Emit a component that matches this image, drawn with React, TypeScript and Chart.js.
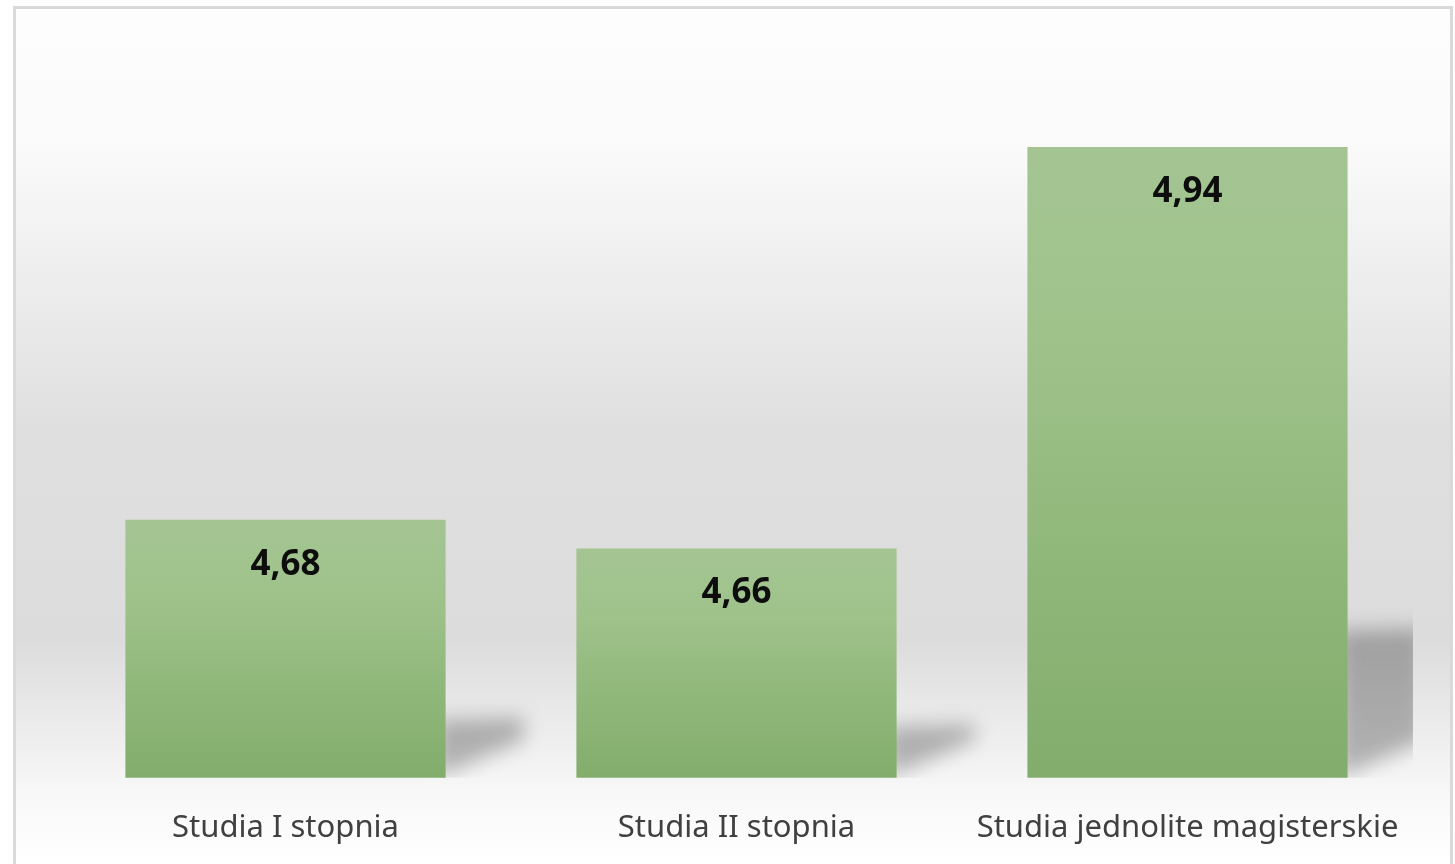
import React, { useEffect, useRef } from "react";
import { Chart, registerables } from "chart.js";

Chart.register(...registerables);

const categories: string[] = ["Studia I stopnia", "Studia II stopnia", "Studia jednolite magisterskie"];
const values: number[] = [4.68, 4.66, 4.94];
const valueLabels: string[] = ["4,68", "4,66", "4,94"];
const yMin = 4.5;
const yMax = 5.0;

const FONT = "'Noto Sans', 'Open Sans', sans-serif";

function drawShadows(chart: any) {
  const { ctx, chartArea } = chart;
  const meta = chart.getDatasetMeta(0);
  const ys = chart.scales.y;
  if (!chartArea || !meta || !meta.data || !ys) return;
  const base = ys.getPixelForValue(yMin);
  const OFF = 4000;
  ctx.save();
  ctx.beginPath();
  ctx.rect(chartArea.left, chartArea.top, chartArea.right - chartArea.left, base - chartArea.top);
  ctx.clip();
  ctx.shadowColor = "rgba(0,0,0,0.27)";
  ctx.shadowBlur = 20;
  ctx.shadowOffsetX = OFF;
  ctx.shadowOffsetY = 0;
  ctx.fillStyle = "#000";
  meta.data.forEach((el: any) => {
    const h = base - el.y;
    const R = el.x + el.width / 2 - OFF;
    const top = base - 0.24 * h;
    ctx.beginPath();
    ctx.moveTo(R - 10, base);
    ctx.lineTo(R - 10, top + 4);
    ctx.lineTo(R + 78, top + 2);
    ctx.lineTo(R + 78, base - 38);
    ctx.closePath();
    ctx.fill();
  });
  ctx.restore();
}

const framePlugin = {
  id: "frameBg",
  beforeDraw(chart: any) {
    const { ctx, width, height } = chart;
    ctx.save();
    ctx.fillStyle = "#ffffff";
    ctx.fillRect(0, 0, width, height);
    const g = ctx.createLinearGradient(0, 0, 0, height);
    g.addColorStop(0, "#fefefe");
    g.addColorStop(0.17, "#fafafa");
    g.addColorStop(0.5, "#dfdfdf");
    g.addColorStop(0.74, "#dcdcdc");
    g.addColorStop(0.92, "#f8f8f8");
    g.addColorStop(1, "#ffffff");
    ctx.fillStyle = g;
    ctx.fillRect(15, 8, 1436, height);
    ctx.strokeStyle = "#d9d9d9";
    ctx.lineWidth = 3;
    ctx.strokeRect(14.5, 7.5, 1437, height + 10);
    ctx.restore();
    drawShadows(chart);
  },
};

const labelPlugin = {
  id: "valueLabels",
  afterDatasetsDraw(chart: any) {
    const { ctx } = chart;
    const meta = chart.getDatasetMeta(0);
    ctx.save();
    ctx.font = `bold 35px ${FONT}`;
    ctx.fillStyle = "#0d0d0d";
    ctx.textAlign = "center";
    ctx.textBaseline = "middle";
    meta.data.forEach((el: any, i: number) => {
      ctx.fillText(valueLabels[i], el.x, el.y + 45);
    });
    ctx.restore();
  },
};

export default function App() {
  const ref = useRef<HTMLCanvasElement | null>(null);

  useEffect(() => {
    if (!ref.current) return;
    const chart = new Chart(ref.current, {
      type: "bar",
      data: {
        labels: categories,
        datasets: [
          {
            data: values,
            backgroundColor: (c: any) => {
              const chart = c.chart;
              if (c.type !== "data" || !chart.chartArea || !chart.scales.y) return "#94bb7f";
              const ys = chart.scales.y;
              const top = ys.getPixelForValue(c.raw);
              const bottom = ys.getPixelForValue(yMin);
              const g = chart.ctx.createLinearGradient(0, top, 0, bottom);
              g.addColorStop(0, "#a4c592");
              g.addColorStop(0.3, "#9fc28b");
              g.addColorStop(1, "#82ad6b");
              return g;
            },
            borderWidth: 0,
            barPercentage: 0.71,
            categoryPercentage: 1,
          },
        ],
      },
      options: {
        animation: false,
        responsive: false,
        maintainAspectRatio: false,
        layout: { padding: { left: 60, right: 42, top: 61, bottom: -7 } },
        plugins: {
          legend: { display: false },
          tooltip: { enabled: false },
          title: { display: false },
        },
        scales: {
          x: {
            grid: { display: false },
            border: { display: false },
            ticks: {
              color: "#404040",
              font: { family: FONT, size: 31 },
              padding: 24,
              maxRotation: 0,
              autoSkip: false,
            },
          },
          y: {
            display: false,
            min: yMin,
            max: yMax,
          },
        },
      },
      plugins: [framePlugin, labelPlugin],
    });
    return () => chart.destroy();
  }, []);

  return (
    <div style={{ position: "absolute", left: 0, top: 0, width: 1455, height: 864, overflow: "hidden" }}>
      <canvas ref={ref} width={1455} height={864} style={{ display: "block", width: 1455, height: 864 }} />
    </div>
  );
}
